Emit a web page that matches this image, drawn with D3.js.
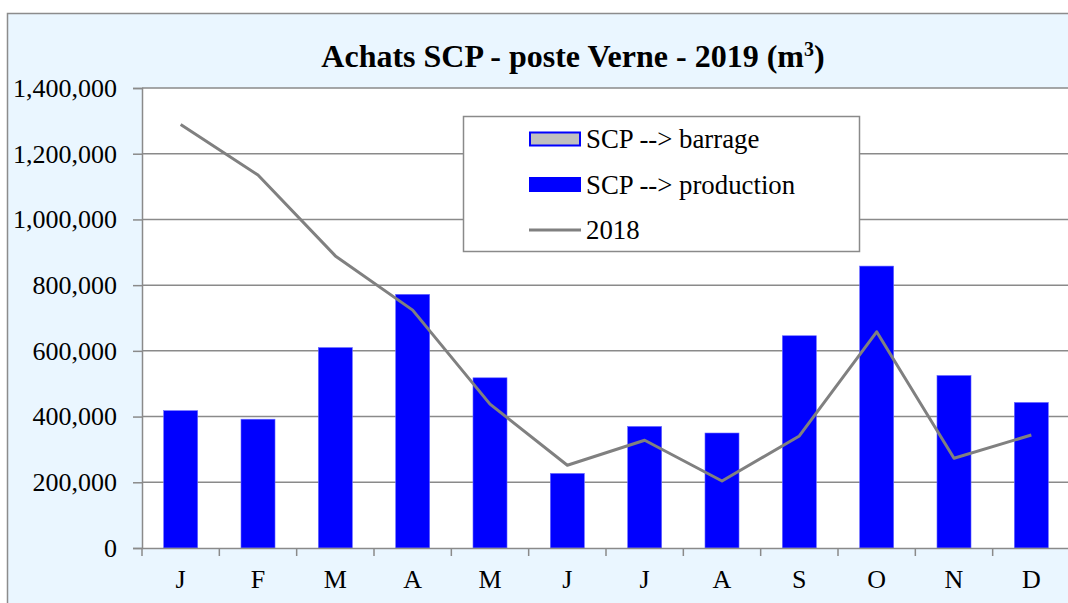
<!DOCTYPE html>
<html>
<head>
<meta charset="utf-8">
<script src="https://cdn.jsdelivr.net/npm/d3@7"></script>
<style>
  body { margin: 0; background: #ffffff; }
  svg { display: block; }
  svg text { font-family: "Liberation Serif", "Times New Roman", "DejaVu Serif", serif; }
</style>
</head>
<body>
<div id="viz"></div>
<script>
// Data
const months = ["J", "F", "M", "A", "M", "J", "J", "A", "S", "O", "N", "D"];
const barrage = [0, 0, 0, 0, 0, 0, 0, 0, 0, 0, 0, 0];
const production = [418000, 392000, 610000, 772000, 518000, 227000, 370000, 350000, 646000, 858000, 525000, 443000];
const line2018 = [1289000, 1135000, 889000, 724000, 438000, 252000, 328000, 204000, 341000, 658000, 273000, 344000];
const yTicks = [0, 200000, 400000, 600000, 800000, 1000000, 1200000, 1400000];

const W = 1068, H = 603;
const m = { top: 88, right: -2, bottom: 55, left: 142 };
const font = "Liberation Serif, Times New Roman, DejaVu Serif, serif";

const svg = d3.select("#viz").append("svg")
    .attr("width", W)
    .attr("height", H);

// chart area background
svg.append("rect")
    .attr("x", 7.5).attr("y", 13.5)
    .attr("width", W + 10).attr("height", H)
    .attr("fill", "#eaf6ff")
    .attr("stroke", "#8c8c8c")
    .attr("stroke-width", 1.5);

const x = d3.scaleBand()
    .domain(d3.range(months.length))
    .range([m.left, W - m.right])
    .paddingInner(0.56)
    .paddingOuter(0.28);

const xb = d3.scaleBand()
    .domain(d3.range(months.length))
    .range([m.left, W - m.right]);

const y = d3.scaleLinear()
    .domain([0, 1400000])
    .range([H - m.bottom, m.top]);

// plot area
svg.append("rect")
    .attr("x", m.left).attr("y", m.top)
    .attr("width", W - m.right - m.left)
    .attr("height", y(0) - m.top)
    .attr("fill", "#ffffff");

// gridlines
svg.append("g")
    .selectAll("line")
    .data(yTicks.slice(1))
    .join("line")
    .attr("x1", m.left).attr("x2", W)
    .attr("y1", d => y(d)).attr("y2", d => y(d))
    .attr("stroke", "#8a8a8a")
    .attr("stroke-width", 1.5);

// bars: production, then barrage stacked on top
const bars = svg.append("g");
bars.selectAll("rect.prod")
    .data(production)
    .join("rect")
    .attr("class", "prod")
    .attr("x", (d, i) => x(i))
    .attr("width", x.bandwidth())
    .attr("y", d => y(d))
    .attr("height", d => y(0) - y(d))
    .attr("fill", "#0000ff")
    .attr("stroke", "#6b6bff")
    .attr("stroke-width", 0.6);

bars.selectAll("rect.barr")
    .data(barrage)
    .join("rect")
    .attr("class", "barr")
    .attr("x", (d, i) => x(i))
    .attr("width", x.bandwidth())
    .attr("y", (d, i) => y(production[i] + d))
    .attr("height", d => y(0) - y(d))
    .attr("fill", "#c0c0c0")
    .attr("stroke", d => d > 0 ? "#0000ff" : "none");

// 2018 line
svg.append("path")
    .datum(line2018)
    .attr("fill", "none")
    .attr("stroke", "#808080")
    .attr("stroke-width", 3)
    .attr("stroke-linejoin", "round")
    .attr("d", d3.line()
        .x((d, i) => xb(i) + xb.bandwidth() / 2)
        .y(d => y(d)));

// y axis
const yAxis = svg.append("g")
    .attr("transform", `translate(${m.left},0)`)
    .call(d3.axisLeft(y).tickValues(yTicks).tickSize(9).tickPadding(16)
        .tickFormat(d3.format(",")));
yAxis.attr("font-family", null).attr("font-size", null);
yAxis.select(".domain").attr("stroke", "#8a8a8a").attr("stroke-width", 1.5);
yAxis.selectAll(".tick line").attr("stroke", "#8a8a8a").attr("stroke-width", 1.5);
yAxis.selectAll("text")
    .style("font-family", font)
    .style("font-size", "26px")
    .attr("fill", "#000");

// x axis
const xAxis = svg.append("g")
    .attr("transform", `translate(0,${y(0)})`)
    .call(d3.axisBottom(xb).tickSize(0).tickPadding(22).tickFormat(i => months[i]));
xAxis.attr("font-family", null).attr("font-size", null);
xAxis.select(".domain").attr("stroke", "#8a8a8a").attr("stroke-width", 1.5);
xAxis.selectAll("text")
    .style("font-family", font)
    .style("font-size", "26px")
    .attr("fill", "#000");

// category separator ticks
svg.append("g")
    .selectAll("line")
    .data(d3.range(months.length))
    .join("line")
    .attr("x1", i => xb(i)).attr("x2", i => xb(i))
    .attr("y1", y(0)).attr("y2", y(0) + 8)
    .attr("stroke", "#8a8a8a")
    .attr("stroke-width", 1.5);

// title
const title = svg.append("text")
    .attr("x", 573).attr("y", 67)
    .attr("text-anchor", "middle")
    .style("font-family", font)
    .style("font-size", "32px")
    .attr("font-weight", "bold")
    .text("Achats SCP - poste Verne - 2019 (m");
title.append("tspan").attr("dy", -11).style("font-size", "20px").text("3");
title.append("tspan").attr("dy", 11).text(")");

// legend
const legend = svg.append("g");
legend.append("rect")
    .attr("x", 463.5).attr("y", 116.5)
    .attr("width", 396).attr("height", 135)
    .attr("fill", "#ffffff")
    .attr("stroke", "#8a8a8a")
    .attr("stroke-width", 1.5);

const legendItems = [
    { label: "SCP --> barrage", type: "barr" },
    { label: "SCP --> production", type: "prod" },
    { label: "2018", type: "line" }
];
legendItems.forEach((d, i) => {
    const cy = 139 + i * 45.5;
    if (d.type === "line") {
        legend.append("line")
            .attr("x1", 529).attr("x2", 581)
            .attr("y1", cy).attr("y2", cy)
            .attr("stroke", "#808080").attr("stroke-width", 3);
    } else {
        legend.append("rect")
            .attr("x", d.type === "barr" ? 530 : 529)
            .attr("y", d.type === "barr" ? cy - 6.5 : cy - 7.5)
            .attr("width", d.type === "barr" ? 50 : 52)
            .attr("height", d.type === "barr" ? 13 : 15)
            .attr("fill", d.type === "barr" ? "#c0c0c0" : "#0000ff")
            .attr("stroke", d.type === "barr" ? "#0000ff" : "none")
            .attr("stroke-width", 2);
    }
    legend.append("text")
        .attr("x", 586).attr("y", cy + 9)
        .style("font-family", font)
        .style("font-size", "26.8px")
        .attr("fill", "#000")
        .text(d.label);
});
</script>
</body>
</html>
